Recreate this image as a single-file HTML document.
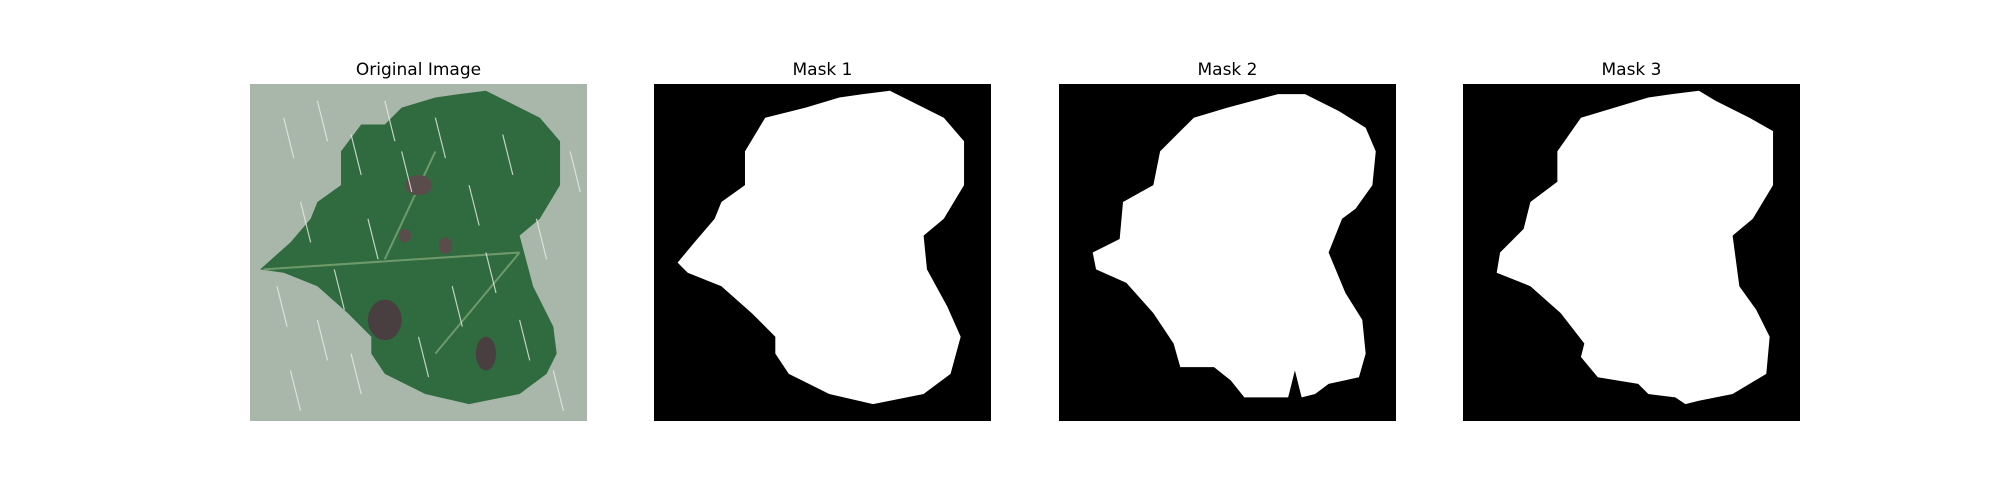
<!DOCTYPE html>
<html><head><meta charset="utf-8"><style>
html,body{margin:0;padding:0;background:#fff;width:2000px;height:500px;overflow:hidden}
.t{position:absolute;top:60px;width:337px;text-align:center;font:17px "DejaVu Sans","Liberation Sans",sans-serif;color:#000}
svg.p{position:absolute;top:84px;width:337px;height:337px}
</style></head><body>
<div class="t" style="left:250px">Original Image</div>
<svg class="p" style="left:250px" viewBox="0 0 100 100" preserveAspectRatio="none">
<rect width="100" height="100" fill="#a9b6aa"/>
<path d="M40 12 L45 7 L55 4 L62 3 L70 2 L74 4 L86 10 L92 17 L92 30 L86 40 L80 45 L84 60 L90 72 L91 80 L88 86 L80 92 L70 94 L65 95 L52 92 L40 86 L36 80 L36 75 L29 68 L20 60 L10 56 L3 55 L12 47 L18 40 L20 35 L27 30 L27 20 L33 12 Z" fill="#2f6b3f"/>
<path d="M4 55 L80 50 M80 50 L55 80 M40 52 L55 20" stroke="#6e9a6a" stroke-width="0.6" fill="none"/>
<ellipse cx="50" cy="30" rx="4" ry="3" fill="#5b4c4c"/>
<ellipse cx="40" cy="70" rx="5" ry="6" fill="#4a3f40"/>
<ellipse cx="70" cy="80" rx="3" ry="5" fill="#4a3f40"/>
<ellipse cx="58" cy="48" rx="2" ry="2.5" fill="#5b4c4c"/>
<ellipse cx="46" cy="45" rx="1.8" ry="2" fill="#5b4c4c"/>
<g stroke="#e8eee6" stroke-width="0.35" opacity="0.8">
<path d="M10 10 L13 22 M20 5 L23 17 M30 15 L33 27 M15 35 L18 47 M8 60 L11 72 M25 55 L28 67 M12 85 L15 97 M35 40 L38 52 M45 20 L48 32 M55 10 L58 22 M65 30 L68 42 M75 15 L78 27 M85 40 L88 52 M60 60 L63 72 M50 75 L53 87 M80 70 L83 82 M90 85 L93 97 M30 80 L33 92 M70 50 L73 62 M40 5 L43 17 M95 20 L98 32 M20 70 L23 82"/></g>
</svg>
<div class="t" style="left:654px">Mask 1</div>
<svg class="p" style="left:654px" viewBox="0 0 100 100" preserveAspectRatio="none">
<rect width="100" height="100" fill="#000"/>
<path d="M45 7 L55 4 L62 3 L70 2 L74 4 L86 10 L92 17 L92 30 L86 40 L80 45 L81 55 L87 66 L91 75 L88 86 L80 92 L70 94 L65 95 L52 92 L40 86 L36 80 L36 75 L29 68 L20 60 L10 56 L7 53 L12 47 L18 40 L20 35 L27 30 L27 20 L33 10 Z" fill="#fff"/>
</svg>
<div class="t" style="left:1059px">Mask 2</div>
<svg class="p" style="left:1059px" viewBox="0 0 100 100" preserveAspectRatio="none">
<rect width="100" height="100" fill="#000"/>
<path d="M50 7 L65 3 L73 3 L83 8 L91 13 L94 20 L93 30 L88 37 L84 40 L80 50 L85 62 L90 70 L91 80 L89 87 L80 89 L76 92 L72 93 L70 85 L68 93 L55 93 L51 88 L46 84 L36 84 L34 77 L28 68 L20 59 L11 55 L10 50 L18 46 L19 35 L28 30 L30 20 L40 10 Z" fill="#fff"/>
</svg>
<div class="t" style="left:1463px">Mask 3</div>
<svg class="p" style="left:1463px" viewBox="0 0 100 100" preserveAspectRatio="none">
<rect width="100" height="100" fill="#000"/>
<path d="M45 7 L55 4 L62 3 L70 2 L75 5 L85 10 L92 14 L92 30 L86 40 L80 45 L82 60 L87 67 L91 75 L90 86 L80 92 L70 94 L66 95 L63 93 L55 92 L52 89 L40 87 L35 81 L36 77 L29 68 L20 60 L10 56 L11 50 L18 43 L20 35 L28 29 L28 20 L35 10 Z" fill="#fff"/>
</svg>
</body></html>
